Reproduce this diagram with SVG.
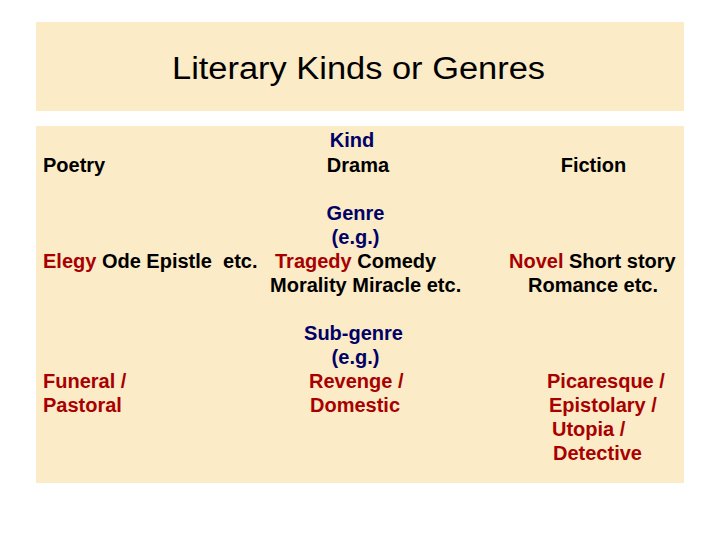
<svg xmlns="http://www.w3.org/2000/svg" width="720" height="540" viewBox="0 0 720 540">
<style>
.box{fill:#FBEBC7}
text{font-family:"Liberation Sans",Arial,sans-serif;font-size:20px;font-weight:bold;fill:#000}
.title{font-size:31px;font-weight:normal}
.h{fill:#000066}
.r{fill:#A80000}
</style>
<rect width="720" height="540" fill="#fff"/>
<g id="title">
<rect class="box" x="36" y="22" width="648" height="89"/>
<text class="title" x="358.5" y="79" text-anchor="middle" textLength="373" lengthAdjust="spacingAndGlyphs">Literary Kinds or Genres</text>
</g>
<g id="content">
<rect class="box" x="36" y="126" width="648" height="357"/>
</g>
<g id="headers">
<text class="h" x="352" y="147" text-anchor="middle">Kind</text>
<text class="h" x="355.5" y="220" text-anchor="middle">Genre</text>
<text class="h" x="355.5" y="244" text-anchor="middle">(e.g.)</text>
<text class="h" x="353.5" y="340" text-anchor="middle">Sub-genre</text>
<text class="h" x="355.5" y="364" text-anchor="middle">(e.g.)</text>
</g>
<g id="poetry">
<text x="43" y="172">Poetry</text>
<text x="43" y="268" xml:space="preserve"><tspan class="r">Elegy</tspan> Ode Epistle  etc.</text>
<text class="r" x="43" y="388">Funeral /</text>
<text class="r" x="43" y="412">Pastoral</text>
</g>
<g id="drama">
<text x="358" y="172" text-anchor="middle">Drama</text>
<text x="275" y="268"><tspan class="r">Tragedy</tspan> Comedy</text>
<text x="270" y="292">Morality Miracle etc.</text>
<text class="r" x="309" y="388">Revenge /</text>
<text class="r" x="310" y="412">Domestic</text>
</g>
<g id="fiction">
<text x="593.5" y="172" text-anchor="middle">Fiction</text>
<text x="509" y="268"><tspan class="r">Novel</tspan> Short story</text>
<text x="528" y="292">Romance etc.</text>
<text class="r" x="547" y="388">Picaresque /</text>
<text class="r" x="549" y="412">Epistolary /</text>
<text class="r" x="552" y="436">Utopia /</text>
<text class="r" x="553" y="460">Detective</text>
</g>
<g id="connectors"/>
</svg>
